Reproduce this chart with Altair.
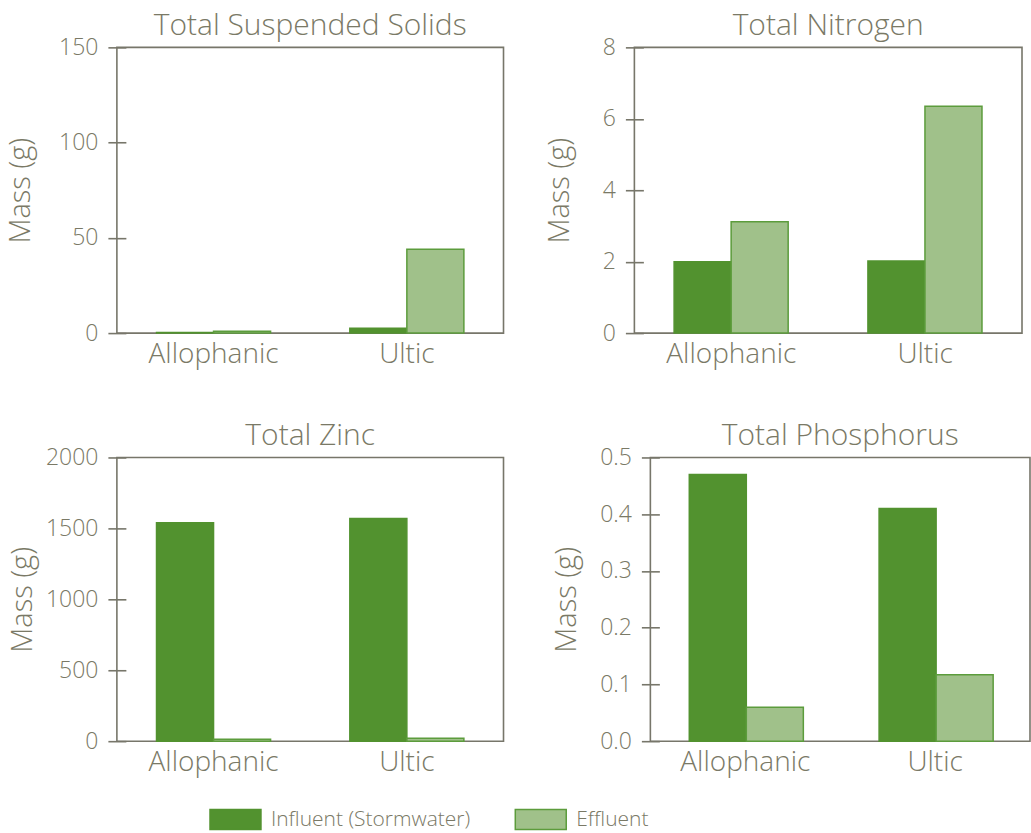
import altair as alt
import pandas as pd

# Soil media and flow series
soils = ["Allophanic", "Ultic"]
series = ["Influent (Stormwater)", "Effluent"]

# Pollutant masses (g) per soil, influent vs effluent
tss_influent = [0.3, 2.5]
tss_effluent = [1.0, 44.0]
tn_influent = [2.0, 2.02]
tn_effluent = [3.12, 6.35]
zn_influent = [1540, 1570]
zn_effluent = [13, 20]
tp_influent = [0.47, 0.41]
tp_effluent = [0.06, 0.117]

# Y-axis tick values per panel
tss_ticks = [0, 50, 100, 150]
tn_ticks = [0, 2, 4, 6, 8]
zn_ticks = [0, 500, 1000, 1500, 2000]
tp_ticks = [0.0, 0.1, 0.2, 0.3, 0.4, 0.5]

FONT = "Open Sans"
TEXT = "#7a7966"
LINE = "#77766a"
DARK = "#52922f"
LIGHT = "#a0c18a"
EDGE = "#5c9c3c"

fill_scale = alt.Scale(domain=series, range=[DARK, LIGHT])
stroke_scale = alt.Scale(domain=series, range=[DARK, EDGE])


def frame(influent, effluent):
    rows = []
    for i, soil in enumerate(soils):
        rows.append({"soil": soil, "series": series[0], "mass": influent[i]})
        rows.append({"soil": soil, "series": series[1], "mass": effluent[i]})
    return pd.DataFrame(rows)


def panel(title, influent, effluent, ticks, fmt, width, height, title_x):
    return (
        alt.Chart(frame(influent, effluent))
        .mark_bar(strokeWidth=1.5)
        .encode(
            x=alt.X(
                "soil:N",
                sort=soils,
                title=None,
                scale=alt.Scale(paddingInner=0.41, paddingOuter=0.205),
                axis=alt.Axis(
                    labelAngle=0,
                    domain=False,
                    ticks=False,
                    labelPadding=7,
                    labelFontSize=28,
                ),
            ),
            xOffset=alt.XOffset("series:N", sort=series),
            y=alt.Y(
                "mass:Q",
                title="Mass (g)",
                scale=alt.Scale(domain=[ticks[0], ticks[-1]], nice=False),
                axis=alt.Axis(
                    values=ticks,
                    format=fmt,
                    domain=False,
                    grid=False,
                    offset=-9,
                    tickSize=18,
                    labelPadding=10,
                    labelFontSize=23,
                    titleFontSize=29,
                    titleX=title_x,
                ),
            ),
            fill=alt.Fill("series:N", sort=series, scale=fill_scale, legend=None),
            stroke=alt.Stroke("series:N", sort=series, scale=stroke_scale, legend=None),
        )
        .properties(
            width=width,
            height=height,
            title=alt.TitleParams(title, fontSize=30, offset=-4.5),
        )
    )


tss = panel("Total Suspended Solids", tss_influent, tss_effluent, tss_ticks, "d", 387, 286, -90)
tn = panel("Total Nitrogen", tn_influent, tn_effluent, tn_ticks, "d", 388, 286, -69)
zn = panel("Total Zinc", zn_influent, zn_effluent, zn_ticks, "d", 387, 284, -88)
tp = panel("Total Phosphorus", tp_influent, tp_effluent, tp_ticks, ".1f", 380, 284, -78)

# Series key: one swatch and label per series, placed on a band scale
key_df = pd.DataFrame({"series": series})
key_base = alt.Chart(key_df).encode(
    x=alt.X(
        "series:N",
        sort=series,
        axis=None,
        scale=alt.Scale(paddingInner=0.223, paddingOuter=0),
    )
)
key_swatch = key_base.mark_bar(width=51, strokeWidth=1.5).encode(
    y=alt.value(0),
    y2=alt.value(20),
    fill=alt.Fill("series:N", sort=series, scale=fill_scale, legend=None),
    stroke=alt.Stroke("series:N", sort=series, scale=stroke_scale, legend=None),
)
key_label = key_base.mark_text(
    align="left", baseline="middle", dx=35.5, fontSize=21, font=FONT,
    fontWeight=300, color=TEXT,
).encode(text="series:N", y=alt.value(10))
key = (key_swatch + key_label).properties(
    width=543, height=20, view=alt.ViewBackground(stroke="transparent")
)

chart = (
    alt.vconcat(
        alt.vconcat(
            alt.hconcat(tss, tn, spacing=40),
            alt.hconcat(zn, tp, spacing=47),
            spacing=50.5,
        ),
        key,
        spacing=30,
    )
    .properties(padding={"left": 6, "top": 9, "right": 0, "bottom": 0})
    .configure(font=FONT)
    .configure_view(stroke=LINE, strokeWidth=1.6)
    .configure_axis(
        labelColor=TEXT,
        titleColor=TEXT,
        tickColor=LINE,
        tickWidth=1.6,
        labelFont=FONT,
        titleFont=FONT,
        labelFontWeight=300,
        titleFontWeight=300,
    )
    .configure_title(color=TEXT, font=FONT, fontWeight=300, anchor="middle")
)

chart.save("out.html", embed_options={"renderer": "svg", "actions": False})
